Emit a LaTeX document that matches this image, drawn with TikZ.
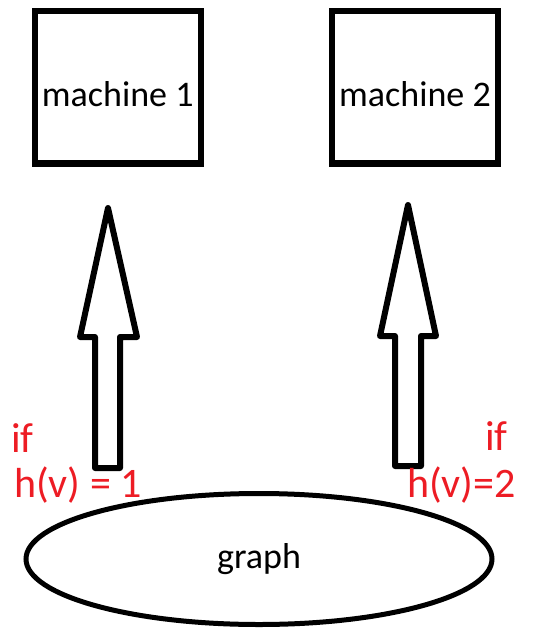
\documentclass[tikz,border=0pt]{standalone}
\usepackage{fontspec}
\setmainfont{Carlito}
\usepackage{xcolor}
\definecolor{paintred}{RGB}{237,28,36}
\usetikzlibrary{shapes.geometric}

\begin{document}
\begin{tikzpicture}[x=1pt,y=-1pt,
  machine/.style={draw,line width=6.5pt,minimum width=166pt,minimum height=152.5pt,inner sep=0pt,text height=39pt,font=\fontsize{36}{40}\selectfont},
  cond/.style={paintred,inner sep=0pt,anchor=base west,font=\fontsize{42}{46}\selectfont},
  blockarrow/.style={draw,line width=6pt,line join=round}]
  \useasboundingbox (0,0) rectangle (535,629);
  % machines
  \node[machine] (m1) at (117.75,87.25) {machine 1};
  \node[machine] (m2) at (415,87.25) {machine 2};
  % graph
  \node[draw,ellipse,line width=5pt,inner sep=0pt,minimum width=466pt,minimum height=131pt,font=\fontsize{36}{40}\selectfont] (g) at (259,559) {graph};
  % block arrows up
  \coordinate (a1) at (108,208);
  \coordinate (a2) at (408,205);
  \draw[blockarrow] (a1) -- ++(29,129) -- ++(-17,0) -- ++(0,131) -- ++(-25,0) -- ++(0,-131) -- ++(-15,0) -- cycle;
  \draw[blockarrow] (a2) -- ++(28,131) -- ++(-15,0) -- ++(0,130) -- ++(-26,0) -- ++(0,-130) -- ++(-15,0) -- cycle;
  % conditions
  \node[cond] (if1) at (11,452) {if};
  \node[cond] (h1) at (14,497) {h(v) = 1};
  \node[cond] (if2) at (485,450) {if};
  \node[cond] (h2) at (407,497) {h(v)=2};
\end{tikzpicture}
\end{document}
